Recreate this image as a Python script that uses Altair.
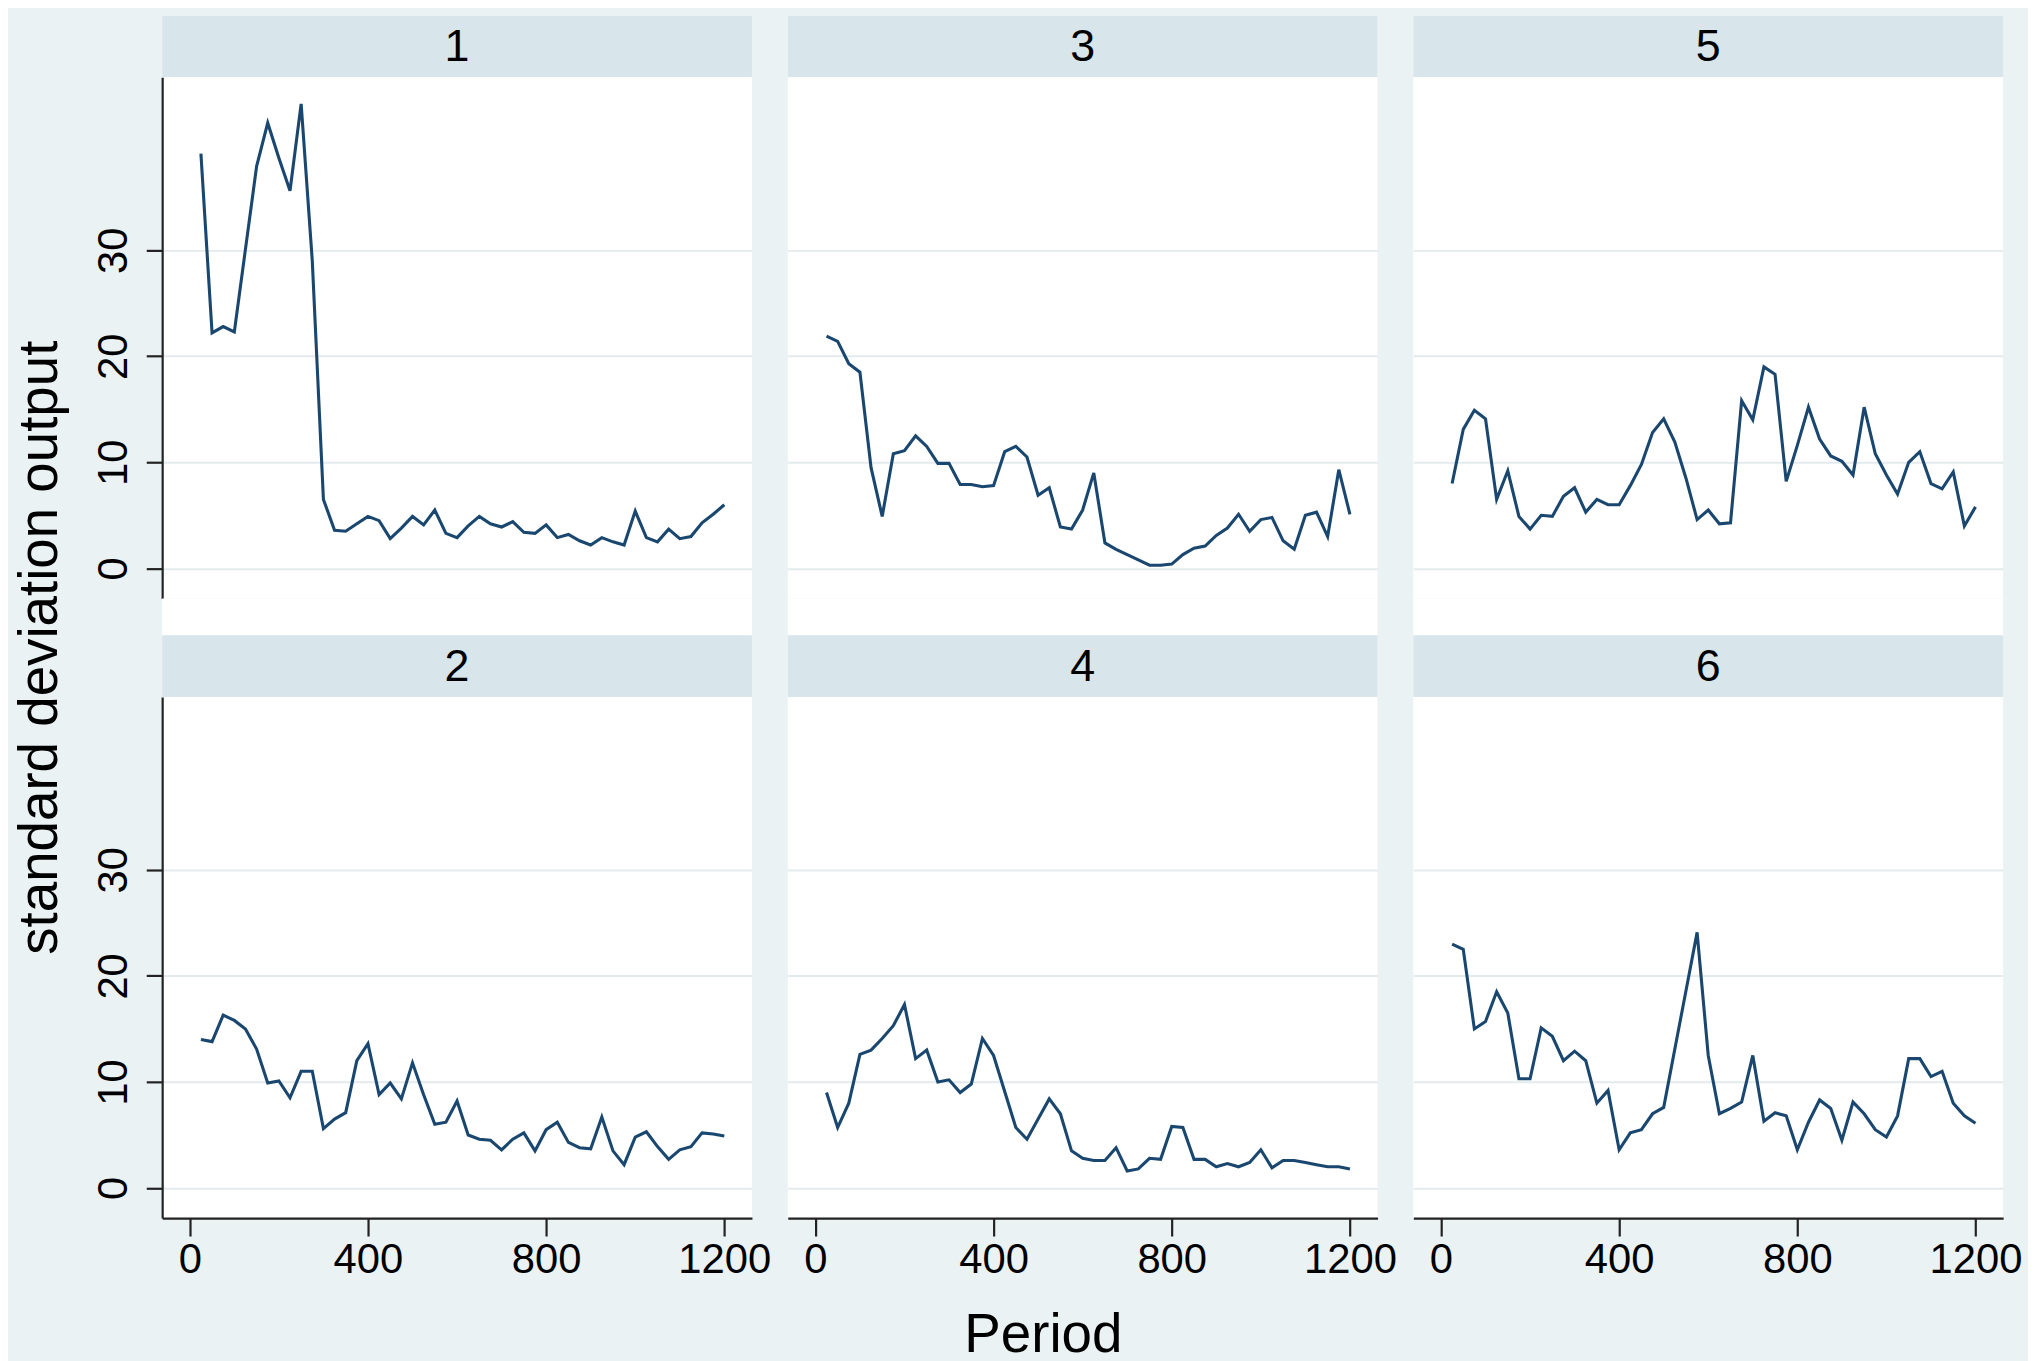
import altair as alt
import pandas as pd

# ---------------- data ----------------
periods = [25, 50, 75, 100, 125, 150, 175, 200, 225, 250, 275, 300,
           325, 350, 375, 400, 425, 450, 475, 500, 525, 550, 575, 600,
           625, 650, 675, 700, 725, 750, 775, 800, 825, 850, 875, 900,
           925, 950, 975, 1000, 1025, 1050, 1075, 1100, 1125, 1150, 1175, 1200]

panel_labels = ["1", "2", "3", "4", "5", "6"]

sd_1 = [39.1, 22.2, 22.8, 22.3, 30.1, 37.9, 42.0, 38.7, 35.6, 43.8, 29.0, 6.5,
        3.6, 3.5, 4.2, 4.9, 4.5, 2.8, 3.8, 4.9, 4.1, 5.5, 3.3, 2.9,
        4.0, 4.9, 4.2, 3.9, 4.4, 3.4, 3.3, 4.1, 2.9, 3.2, 2.6, 2.2,
        2.9, 2.5, 2.2, 5.4, 2.9, 2.5, 3.7, 2.8, 3.0, 4.3, 5.1, 6.0]
sd_2 = [14.0, 13.8, 16.3, 15.8, 15.0, 13.1, 9.9, 10.1, 8.5, 11.0, 11.0, 5.6,
        6.5, 7.1, 12.0, 13.6, 8.8, 9.9, 8.4, 11.8, 8.8, 6.0, 6.2, 8.2,
        5.0, 4.6, 4.5, 3.6, 4.6, 5.2, 3.5, 5.5, 6.2, 4.3, 3.8, 3.7,
        6.7, 3.5, 2.2, 4.8, 5.3, 3.9, 2.7, 3.6, 3.9, 5.2, 5.1, 4.9]
sd_3 = [21.9, 21.4, 19.3, 18.5, 9.5, 4.9, 10.8, 11.1, 12.5, 11.5, 9.9, 9.9,
        7.9, 7.9, 7.7, 7.8, 11.0, 11.5, 10.5, 6.9, 7.6, 3.9, 3.7, 5.5,
        9.0, 2.4, 1.8, 1.3, 0.8, 0.3, 0.3, 0.4, 1.3, 1.9, 2.1, 3.1,
        3.8, 5.1, 3.5, 4.6, 4.8, 2.6, 1.8, 5.0, 5.3, 3.0, 9.3, 5.1]
sd_4 = [9.0, 5.7, 8.0, 12.6, 13.0, 14.1, 15.3, 17.3, 12.2, 13.0, 10.0, 10.2,
        9.0, 9.8, 14.1, 12.5, 9.1, 5.7, 4.6, 6.5, 8.4, 7.0, 3.5, 2.8,
        2.6, 2.6, 3.8, 1.6, 1.8, 2.8, 2.7, 5.8, 5.7, 2.7, 2.7, 2.0,
        2.3, 2.0, 2.4, 3.6, 1.9, 2.6, 2.6, 2.4, 2.2, 2.0, 2.0, 1.8]
sd_5 = [8.0, 13.1, 14.9, 14.1, 6.5, 9.2, 4.9, 3.7, 5.0, 4.9, 6.8, 7.6,
        5.3, 6.5, 6.0, 6.0, 7.8, 9.8, 12.8, 14.1, 11.9, 8.5, 4.6, 5.5,
        4.2, 4.3, 15.8, 14.0, 19.0, 18.3, 8.2, 11.6, 15.2, 12.2, 10.6, 10.1,
        8.8, 15.2, 10.8, 8.8, 7.0, 10.0, 11.0, 8.0, 7.5, 9.1, 4.0, 5.8]
sd_6 = [23.0, 22.5, 15.0, 15.7, 18.5, 16.5, 10.3, 10.3, 15.1, 14.3, 12.0, 12.9,
        12.0, 8.0, 9.2, 3.6, 5.2, 5.5, 7.0, 7.6, 13.1, 18.6, 24.1, 12.5,
        7.0, 7.5, 8.1, 12.5, 6.3, 7.1, 6.8, 3.6, 6.2, 8.3, 7.5, 4.5,
        8.1, 7.0, 5.5, 4.8, 6.8, 12.2, 12.2, 10.5, 11.0, 8.0, 6.8, 6.1]

series = {"1": sd_1, "2": sd_2, "3": sd_3, "4": sd_4, "5": sd_5, "6": sd_6}

x_ticks = [0, 400, 800, 1200]
y_ticks = [0, 10, 20, 30]
x_title = "Period"
y_title = "standard deviation output"

# ---------------- style ----------------
W, H, HH = 593, 524, 62
GAP = 36
ROW_GAP = 37
LINE = "#1A476F"
BG = "#EAF2F3"
STRIP = "#D8E5EB"
GRID = "#E3EBEE"
AXIS = "#222222"
FONT = "Liberation Sans"
TICK_FS = 42
HEAD_FS = 45
TITLE_FS = 55

X_DOMAIN = [-62, 1262]
Y_DOMAIN = [-2.84, 46.3]


def header(label, top_gap):
    d = pd.DataFrame({"label": [label]})
    base = alt.Chart(d)
    rect = base.mark_rect(color=STRIP).encode(
        x=alt.value(0), x2=alt.value(W),
        y=alt.value(top_gap), y2=alt.value(top_gap + HH))
    txt = base.mark_text(font=FONT, fontSize=HEAD_FS, color="black",
                         align="center", baseline="middle").encode(
        text="label:N", x=alt.value(W / 2), y=alt.value(top_gap + HH / 2 + 1))
    return alt.layer(rect, txt).properties(width=W, height=HH + top_gap)


def plot(label, row, col):
    d = pd.DataFrame({"period": periods, "sd": series[label]})

    if row == 1:
        xkw = dict(values=x_ticks, grid=False, domain=True, ticks=True,
                   labels=True, tickSize=18, tickWidth=2.2, tickColor=AXIS,
                   domainColor=AXIS, domainWidth=2.2, labelFont=FONT,
                   labelFontSize=TICK_FS, labelColor="black", labelPadding=4,
                   labelFlush=False, labelOverlap=False, format="d")
        if col == 1:
            xkw.update(title=x_title, titleFont=FONT, titleFontSize=TITLE_FS,
                       titleFontWeight="normal", titleColor="black",
                       titleX=W / 2 - 40, titleY=134, titleAlign="center",
                       titleBaseline="alphabetic")
        else:
            xkw.update(title=None)
        xaxis = alt.Axis(**xkw)
    else:
        xaxis = None

    if col == 0:
        ykw = dict(values=y_ticks, grid=True, gridColor=GRID, gridWidth=2,
                   domain=True, domainColor=AXIS, domainWidth=2.2,
                   ticks=True, tickSize=16, tickWidth=2.2, tickColor=AXIS,
                   labels=True, labelAngle=270, labelAlign="center",
                   labelBaseline="bottom", labelFont=FONT,
                   labelFontSize=TICK_FS, labelColor="black", labelPadding=11,
                   labelFlush=False, labelOverlap=False)
        if row == 1:
            ykw.update(title=y_title, titleFont=FONT, titleFontSize=TITLE_FS,
                       titleFontWeight="normal", titleColor="black",
                       titleAngle=270, titleX=-123, titleY=-50,
                       titleAlign="center", titleBaseline="middle")
        else:
            ykw.update(title=None)
        yaxis = alt.Axis(**ykw)
    else:
        yaxis = alt.Axis(values=y_ticks, grid=True, gridColor=GRID, gridWidth=2,
                         domain=False, ticks=False, labels=False, title=None)

    return alt.Chart(d).mark_line(color=LINE, strokeWidth=3.1).encode(
        x=alt.X("period:Q", scale=alt.Scale(domain=X_DOMAIN, nice=False, zero=False),
                axis=xaxis),
        y=alt.Y("sd:Q", scale=alt.Scale(domain=Y_DOMAIN, nice=False, zero=False),
                axis=yaxis),
    ).properties(width=W, height=H)


layout = [["1", "3", "5"], ["2", "4", "6"]]
cells = []
for r, labels in enumerate(layout):
    gap = 0 if r == 0 else ROW_GAP
    for lab in labels:
        cells.append(header(lab, gap))
    for c, lab in enumerate(labels):
        cells.append(plot(lab, r, c))

chart = alt.concat(
    *cells, columns=3, spacing={"row": 0, "column": GAP}, bounds="flush"
).properties(
    padding={"left": 4, "top": 4, "right": 6, "bottom": 2}
).configure(
    background=BG
).configure_view(
    stroke=None, fill="white"
)

chart.save("out.html", embed_options={"renderer": "svg", "actions": False})
